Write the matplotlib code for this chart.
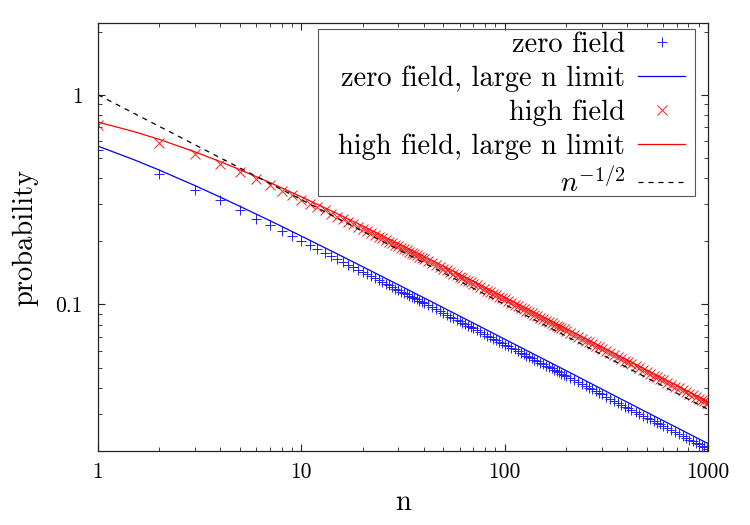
import matplotlib
matplotlib.use("Agg")
import matplotlib.pyplot as plt
from matplotlib import ticker
from matplotlib.patches import Rectangle

plt.rcParams['font.family'] = ['cmr10', 'DejaVu Serif']
plt.rcParams['mathtext.fontset'] = 'cm'
plt.rcParams['axes.formatter.use_mathtext'] = True

# ---- data ----
n_points = (list(range(1, 41)) + list(range(42, 71, 2)) + list(range(73, 101, 3))
            + list(range(104, 141, 4)) + list(range(145, 201, 5)) + list(range(210, 301, 10))
            + list(range(315, 421, 15)) + list(range(440, 601, 20)) + list(range(630, 991, 30)) + [1000])

zero_field = [0.543, 0.420, 0.353, 0.314, 0.283, 0.2563, 0.2383, 0.2235, 0.2112, 0.2007,
              0.1916, 0.1837, 0.1767, 0.1704, 0.1648, 0.1596, 0.1549, 0.1507, 0.1467, 0.1431,
              0.1397, 0.1365, 0.1335, 0.1308, 0.1282, 0.1257, 0.1234, 0.1212, 0.1191, 0.1172,
              0.1152, 0.1135, 0.1118, 0.1101, 0.1085, 0.1070, 0.1056, 0.1042, 0.1028, 0.1016,
              0.0994, 0.0971, 0.0949, 0.0929, 0.0911, 0.0893, 0.0876, 0.0860, 0.0846, 0.0831,
              0.0818, 0.0805, 0.0793, 0.0781, 0.0770,
              0.0753, 0.0739, 0.0725, 0.0711, 0.0699, 0.0687, 0.0675, 0.0664, 0.0654, 0.0644,
              0.0633, 0.0620, 0.0610, 0.0599, 0.0589, 0.0579, 0.0570, 0.0561, 0.0553, 0.0545,
              0.0535, 0.0526, 0.0518, 0.0510, 0.0502, 0.0495, 0.0488, 0.0481, 0.0474, 0.0468,
              0.0462, 0.0456,
              0.0445, 0.0435, 0.0425, 0.0416, 0.0408, 0.0400, 0.0393, 0.0386, 0.0379, 0.0372,
              0.0363, 0.0355, 0.0347, 0.0340, 0.0333, 0.0326, 0.0321, 0.0315,
              0.0308, 0.0301, 0.0294, 0.0288, 0.0283, 0.0277, 0.0273, 0.0268, 0.0263,
              0.0257, 0.0251, 0.0246, 0.0241, 0.0235, 0.0231, 0.0226, 0.0223, 0.0219, 0.0215,
              0.0212, 0.0208, 0.0205, 0.0204]

high_field = [0.720, 0.591, 0.520, 0.469, 0.428, 0.3960, 0.3706, 0.3495, 0.3316, 0.3163,
              0.3029, 0.2912, 0.2807, 0.2713, 0.2627, 0.2549, 0.2478, 0.2413, 0.2352, 0.2296,
              0.2244, 0.2196, 0.2150, 0.2107, 0.2066, 0.2028, 0.1993, 0.1958, 0.1925, 0.1895,
              0.1865, 0.1837, 0.1810, 0.1784, 0.1759, 0.1736, 0.1713, 0.1691, 0.1670, 0.1650,
              0.1611, 0.1576, 0.1542, 0.1510, 0.1481, 0.1454, 0.1427, 0.1402, 0.1378, 0.1356,
              0.1334, 0.1314, 0.1294, 0.1276, 0.1257,
              0.1232, 0.1208, 0.1185, 0.1164, 0.1144, 0.1124, 0.1106, 0.1088, 0.1072, 0.1056,
              0.1036, 0.1017, 0.0999, 0.0981, 0.0966, 0.0950, 0.0935, 0.0921, 0.0907, 0.0895,
              0.0879, 0.0865, 0.0851, 0.0838, 0.0825, 0.0813, 0.0802, 0.0790, 0.0780, 0.0769,
              0.0760, 0.0750,
              0.0733, 0.0716, 0.0700, 0.0685, 0.0672, 0.0659, 0.0647, 0.0636, 0.0624, 0.0614,
              0.0599, 0.0585, 0.0572, 0.0561, 0.0549, 0.0539, 0.0529, 0.0520,
              0.0508, 0.0496, 0.0486, 0.0476, 0.0468, 0.0458, 0.0451, 0.0442, 0.0435,
              0.0424, 0.0415, 0.0406, 0.0398, 0.0389, 0.0382, 0.0374, 0.0368, 0.0362, 0.0355,
              0.0350, 0.0345, 0.0339, 0.0337]

n_limit = [1, 1.5, 2, 3, 4, 5, 7, 10, 15, 20, 30, 50, 70, 100, 200, 300, 500, 700, 1000]
zero_limit = [0.5689, 0.4905, 0.4376, 0.3688, 0.3247, 0.2934, 0.2510, 0.2119, 0.1743, 0.1515,
              0.1241, 0.0964, 0.0816, 0.0683, 0.0484, 0.0395, 0.0306, 0.0259, 0.0217]
high_limit = [0.7410, 0.6678, 0.6128, 0.5342, 0.4797, 0.4390, 0.3815, 0.3262, 0.2711, 0.2369,
              0.1953, 0.1524, 0.1292, 0.1084, 0.0769, 0.0628, 0.0487, 0.0412, 0.0344]

n_power = [1, 10, 100, 1000]
power_half = [1.0, 0.3162, 0.1, 0.03162]

x_ticks = [1, 10, 100, 1000]
y_ticks = [0.1, 1]

FS_TICK = 15.5
FS = 20.5

W, H = 750, 525
fig = plt.figure(figsize=(W/100, H/100), dpi=100)
ax = fig.add_axes([98/W, 1-451/H, 610/W, 428/H])

ax.plot(n_points, zero_field, linestyle='none', marker='+', markersize=7.5,
        markeredgewidth=0.7, color='#2020ff', label='zero field')
ax.plot(n_limit, zero_limit, color='#0000ff', lw=0.9, label='zero field, large n limit')
ax.plot(n_points, high_field, linestyle='none', marker='x', markersize=6.5,
        markeredgewidth=0.7, color='#ff2020', label='high field')
ax.plot(n_limit, high_limit, color='#ff0000', lw=0.9, label='high field, large n limit')
ax.plot(n_power, power_half, color='black', lw=0.9, linestyle=(0, (4, 4)),
        label=r'$n^{-1/2}$')

ax.set_xscale('log')
ax.set_yscale('log')
ax.set_xlim(1, 1000)
ax.set_ylim(0.02, 2.2)

fmt = ticker.FuncFormatter(lambda v, p: f'{v:g}')
ax.xaxis.set_major_locator(ticker.FixedLocator(x_ticks))
ax.yaxis.set_major_locator(ticker.FixedLocator(y_ticks))
ax.xaxis.set_major_formatter(fmt)
ax.yaxis.set_major_formatter(fmt)
ax.xaxis.set_minor_locator(ticker.LogLocator(base=10, subs=range(2, 10)))
ax.yaxis.set_minor_locator(ticker.LogLocator(base=10, subs=range(2, 10)))
ax.xaxis.set_minor_formatter(ticker.NullFormatter())
ax.yaxis.set_minor_formatter(ticker.NullFormatter())

ax.tick_params(which='both', direction='in', top=True, right=True, colors='#222222')
ax.tick_params(which='major', length=5, width=0.8, labelsize=FS_TICK, labelcolor='black')
ax.tick_params(which='minor', length=3, width=0.6)
ax.tick_params(axis='x', which='major', pad=8)
ax.tick_params(axis='y', which='major', pad=11)
for s in ax.spines.values():
    s.set_linewidth(0.9)
    s.set_color('#222222')

ax.set_xlabel('n', fontsize=FS)
ax.set_ylabel('probability', fontsize=FS)
ax.xaxis.set_label_coords(0.5, -0.091)
ax.yaxis.set_label_coords(-0.098, 0.5)

leg = ax.legend(loc='upper right', bbox_to_anchor=((685-98)/610, (451-32)/428),
                borderaxespad=0, borderpad=0, markerfirst=False, fontsize=FS,
                frameon=False, handlelength=1.65, handletextpad=0.46, labelspacing=0.26)

# legend frame (gnuplot style key box)
fig.patches.append(Rectangle((318/W, 1-196/H), (695-318)/W, (196-29)/H,
                             transform=fig.transFigure, fill=False,
                             edgecolor='#555555', linewidth=0.8, zorder=5))

fig.savefig('out.png', dpi=100)
